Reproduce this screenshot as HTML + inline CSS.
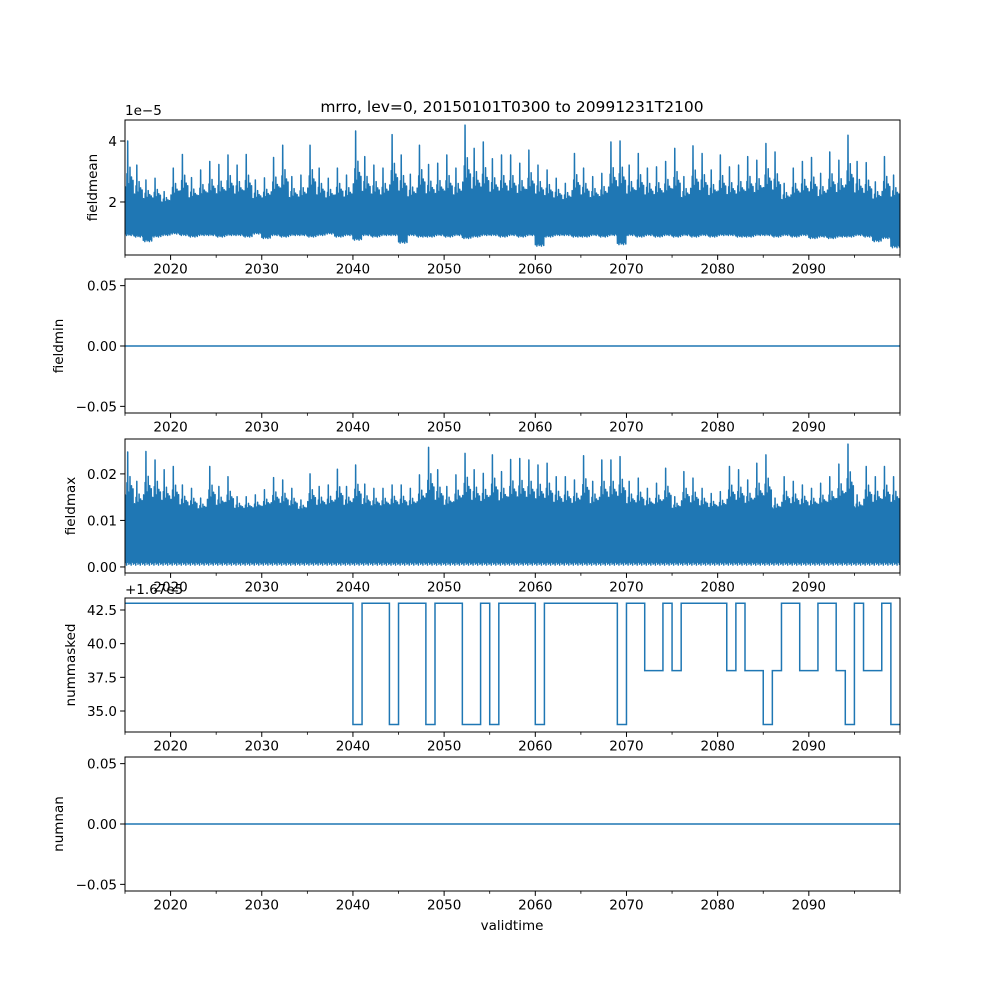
<!DOCTYPE html>
<html><head><meta charset="utf-8"><style>
html,body{margin:0;padding:0;background:#fff;}
svg{display:block;font-family:"DejaVu Sans","Liberation Sans",sans-serif;}
</style></head><body>
<svg id="fig" width="1000" height="1000" viewBox="0 0 1000 1000" xmlns="http://www.w3.org/2000/svg">
<rect width="1000" height="1000" fill="#fff"/>
<text x="512" y="112" font-size="15.5" text-anchor="middle">mrro, lev=0, 20150101T0300 to 20991231T2100</text>
<text x="512" y="930" font-size="13.5" text-anchor="middle">validtime</text>
</svg>
<script>
// ---- data ----
const years = [];
for (let y = 2015; y <= 2099; y++) years.push(y);
const xTicks = [2020, 2030, 2040, 2050, 2060, 2070, 2080, 2090];
const xMinorTicks = [2015, 2025, 2035, 2045, 2055, 2065, 2075, 2085, 2095, 2100];
// fieldmean yearly peaks (units 1e-5)
const meanPeak = [4.0,3.21,2.72,2.78,2.34,3.11,3.56,2.80,3.05,3.33,3.23,3.54,3.21,3.56,2.72,2.79,3.46,3.86,2.83,2.88,3.86,3.11,2.78,3.11,2.88,4.33,3.49,3.21,3.11,4.21,3.54,2.91,3.86,3.23,3.27,3.54,3.11,4.52,3.76,3.97,3.42,3.54,3.54,3.27,3.70,3.21,3.05,2.78,2.61,3.59,3.11,2.83,2.94,3.97,4.0,3.21,3.59,3.11,3.15,3.33,3.76,2.83,3.84,3.59,3.05,3.54,3.15,3.21,3.49,3.37,3.92,3.64,2.61,3.11,3.33,3.46,2.94,3.64,3.37,4.19,3.33,3.29,2.66,3.49,2.88];
// fieldmean yearly lows (units 1e-5)
const meanLow = [0.9,0.85,0.7,0.85,0.9,0.95,0.9,0.85,0.9,0.9,0.85,0.9,0.9,0.85,0.95,0.8,0.9,0.85,0.9,0.9,0.85,0.9,0.95,0.85,0.9,0.75,0.9,0.85,0.9,0.9,0.65,0.9,0.85,0.85,0.9,0.85,0.9,0.8,0.85,0.9,0.9,0.85,0.9,0.85,0.9,0.55,0.85,0.9,0.9,0.85,0.85,0.9,0.85,0.9,0.6,0.9,0.85,0.9,0.85,0.9,0.85,0.9,0.85,0.9,0.85,0.9,0.9,0.85,0.85,0.9,0.9,0.85,0.9,0.85,0.9,0.8,0.85,0.8,0.85,0.85,0.9,0.85,0.7,0.8,0.5];
const meanBand = 1.85;
// fieldmax yearly peaks
const maxPeak = [0.0247,0.0184,0.0248,0.0230,0.0209,0.0216,0.0176,0.0169,0.0148,0.0216,0.0173,0.0194,0.0151,0.0151,0.0155,0.0166,0.0192,0.0187,0.0169,0.0144,0.0200,0.0173,0.0176,0.0210,0.0173,0.0219,0.0178,0.0169,0.0169,0.0176,0.0176,0.0169,0.0198,0.0257,0.0209,0.0173,0.0198,0.0244,0.0209,0.0201,0.0241,0.0205,0.0231,0.0233,0.0230,0.0219,0.0223,0.0194,0.0194,0.0187,0.0239,0.0184,0.0230,0.0230,0.0237,0.0184,0.0191,0.0169,0.0180,0.0212,0.0151,0.0205,0.0191,0.0169,0.0158,0.0162,0.0216,0.0209,0.0187,0.0223,0.0241,0.0148,0.0194,0.0184,0.0176,0.0169,0.0180,0.0194,0.0221,0.0264,0.0155,0.0216,0.0194,0.0216,0.0194];
const maxLow = 0.0004;
const maxBand = 0.0115;
// nummasked yearly values (offset +1.67e5)
const numMasked = [43,43,43,43,43,43,43,43,43,43,43,43,43,43,43,43,43,43,43,43,43,43,43,43,43,34,43,43,43,34,43,43,43,34,43,43,43,34,34,43,34,43,43,43,43,34,43,43,43,43,43,43,43,43,34,43,43,38,38,43,38,43,43,43,43,43,38,43,38,38,34,38,43,43,38,38,43,43,38,34,43,38,38,43,34];
const fieldMin = 0;
const numNan = 0;

// ---- layout ----
const NS = "http://www.w3.org/2000/svg";
const svg = document.getElementById('fig');
const X0 = 125, X1 = 900, XMIN = 2015, XMAX = 2100;
const xs = v => X0 + (v - XMIN) / (XMAX - XMIN) * (X1 - X0);
const hiPat = [0.3,0.05,0.5,1.0,0.35,0.15,0.6,0.2,0.45,0.0,0.4,0.1];
const loPat = [0.1,0.25,0.0,0.15,0.3,0.05,0.2,0.1,0.0,0.25,0.15,0.05];
const BLUE = '#1f77b4';

function el(tag, attrs, parent) {
  const e = document.createElementNS(NS, tag);
  for (const k in attrs) e.setAttribute(k, attrs[k]);
  (parent || svg).appendChild(e);
  return e;
}

function makePanel(name, top, bottom, ymin, ymax, yticks, ylabels, ylabel) {
  const g = el('g', {});
  
  
  const ys = v => bottom - (v - ymin) / (ymax - ymin) * (bottom - top);
  const clipId = 'clip-' + name;
  const cp = el('clipPath', {id: clipId}, g);
  el('rect', {x: X0, y: top, width: X1 - X0, height: bottom - top}, cp);
  const plot = el('g', {'clip-path': 'url(#' + clipId + ')'}, g);
  
  
  xTicks.forEach(t => {
    const x = xs(t);
    const tk = el('line', {x1: x, x2: x, y1: bottom, y2: bottom + 4.9, stroke: '#000', 'stroke-width': 1}, g);
    
    
    const lb = el('text', {x: x, y: bottom + 18.5, 'font-size': 13.5, 'text-anchor': 'middle'}, g);
    lb.textContent = t;
    
    
  });
  xMinorTicks.forEach(t => {
    const x = xs(t);
    const tk = el('line', {x1: x, x2: x, y1: bottom, y2: bottom + 2.8, stroke: '#000', 'stroke-width': 0.8}, g);
    
    
  });
  yticks.forEach((t, i) => {
    const y = ys(t);
    const tk = el('line', {x1: X0 - 4.9, x2: X0, y1: y, y2: y, stroke: '#000', 'stroke-width': 1}, g);
    
    
    const lb = el('text', {x: X0 - 8, y: y + 5, 'font-size': 13.5, 'text-anchor': 'end'}, g);
    lb.textContent = ylabels[i];
    
    
  });
  const yl = el('text', {x: 0, y: 0, 'font-size': 13.5, 'text-anchor': 'middle', transform: 'translate(' + (ylabel.x) + ',' + ((top + bottom) / 2) + ') rotate(-90)'}, g);
  yl.textContent = ylabel.text;
  
  
  return {g, plot, ys, top, bottom};
}

function frame(p) {
  const r = el('rect', {x: X0, y: p.top, width: X1 - X0, height: p.bottom - p.top, fill: 'none', stroke: '#000', 'stroke-width': 1}, p.g);
  
  
}

function noisySeries(p, peaks, lows, band, fillTop, name) {
  let d = '';
  const M = hiPat.length;
  years.forEach((yr, i) => {
    const low = Array.isArray(lows) ? lows[i] : lows;
    for (let k = 0; k < M; k++) {
      const xa = xs(yr + (k + 0.1) / M), xb = xs(yr + (k + 0.55) / M);
      const lo = low + loPat[k] * (band - low) * 0.35;
      const hi = band + hiPat[k] * (peaks[i] - band);
      d += (d ? 'L' : 'M') + xa.toFixed(2) + ' ' + p.ys(lo).toFixed(2) + 'L' + xb.toFixed(2) + ' ' + p.ys(hi).toFixed(2);
    }
  });
  let fd = 'M' + xs(XMIN) + ' ' + p.ys(fillTop);
  fd += 'L' + X1 + ' ' + p.ys(fillTop);
  for (let i = years.length - 1; i >= 0; i--) {
    const low = Array.isArray(lows) ? lows[i] : lows;
    fd += 'L' + xs(years[i] + 0.5).toFixed(2) + ' ' + p.ys(low + (band - low) * 0.12).toFixed(2);
  }
  fd += 'Z';
  const f = el('path', {d: fd, fill: BLUE, stroke: 'none'}, p.plot);
  
  
  const path = el('path', {d: d, fill: 'none', stroke: BLUE, 'stroke-width': 1.5, 'stroke-linejoin': 'round'}, p.plot);
  
  
}

function flatLine(p, v, name) {
  const l = el('line', {x1: X0, x2: X1, y1: p.ys(v), y2: p.ys(v), stroke: BLUE, 'stroke-width': 1.5}, p.plot);
  
  
}

// Panel 1: fieldmean
const p1 = makePanel('fieldmean', 120, 255, 0.26, 4.69, [2, 4], ['2', '4'], {x: 97, text: 'fieldmean'});
noisySeries(p1, meanPeak, meanLow, meanBand, 1.55, 'fieldmean');
frame(p1);
const off1 = el('text', {x: 125, y: 115, 'font-size': 13.5}, p1.g);
off1.textContent = '1e\u22125';



// Panel 2: fieldmin
const p2 = makePanel('fieldmin', 279, 413, -0.0555, 0.0555, [-0.05, 0, 0.05], ['\u22120.05', '0.00', '0.05'], {x: 63, text: 'fieldmin'});
flatLine(p2, fieldMin, 'fieldmin');
frame(p2);

// Panel 3: fieldmax
const p3 = makePanel('fieldmax', 439, 573, -0.0013, 0.0275, [0, 0.01, 0.02], ['0.00', '0.01', '0.02'], {x: 75, text: 'fieldmax'});
noisySeries(p3, maxPeak, maxLow, maxBand, 0.0105, 'fieldmax');
frame(p3);

// Panel 4: nummasked
const p4 = makePanel('nummasked', 598, 732, 33.44, 43.39, [35, 37.5, 40, 42.5], ['35.0', '37.5', '40.0', '42.5'], {x: 75, text: 'nummasked'});
(function () {
  let d = '';
  years.forEach((yr, i) => {
    const y = p4.ys(numMasked[i]).toFixed(2);
    d += (d ? 'L' : 'M') + xs(yr).toFixed(2) + ' ' + y + 'L' + xs(yr + 1).toFixed(2) + ' ' + y;
  });
  const path = el('path', {d: d, fill: 'none', stroke: BLUE, 'stroke-width': 1.5}, p4.plot);
  
  
})();
frame(p4);
const off4 = el('text', {x: 125, y: 594, 'font-size': 13.5}, p4.g);
off4.textContent = '+1.67e5';



// Panel 5: numnan
const p5 = makePanel('numnan', 757, 891, -0.0555, 0.0555, [-0.05, 0, 0.05], ['\u22120.05', '0.00', '0.05'], {x: 63, text: 'numnan'});
flatLine(p5, numNan, 'numnan');
frame(p5);
</script>
</body></html>
